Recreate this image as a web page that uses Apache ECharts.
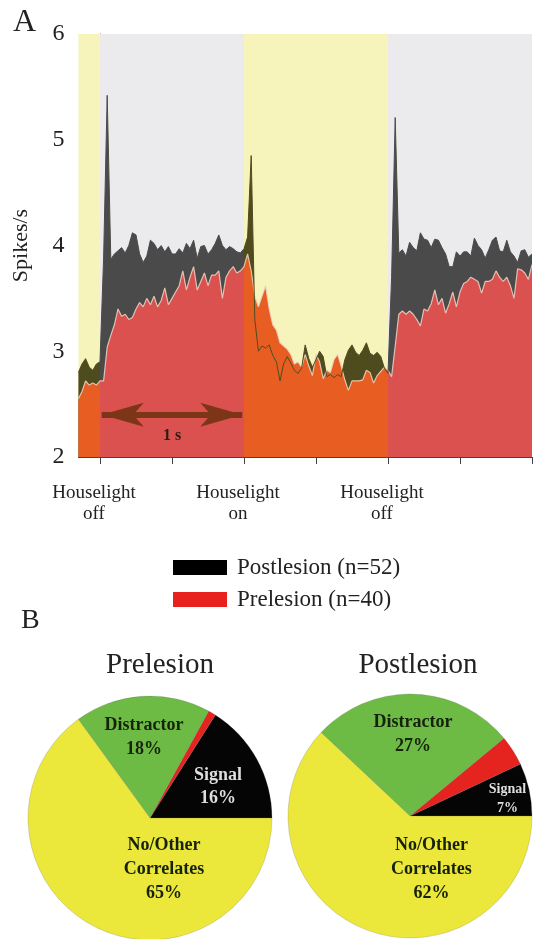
<!DOCTYPE html>
<html><head><meta charset="utf-8">
<script src="https://cdn.jsdelivr.net/npm/echarts@6/dist/echarts.min.js"></script>
<style>html,body{margin:0;padding:0;background:#fff}#c{width:536px;height:939px}</style>
</head><body><div id="c"></div>
<script>
// ---- data ----
const tStart = -0.15, tStep = 0.025; // 25 ms bins
const postlesion = [2.80,2.88,2.93,2.85,2.82,2.88,2.90,3.88,5.42,3.87,3.92,3.95,3.98,3.93,4.00,4.12,4.10,3.92,3.84,3.90,
4.05,4.02,3.96,4.00,3.94,3.99,3.92,3.92,3.97,3.93,4.02,3.97,4.05,3.88,3.99,4.00,3.92,3.96,4.02,4.10,
4.00,3.96,3.99,3.97,3.94,3.93,3.97,4.08,4.85,3.30,3.00,3.05,3.03,3.06,2.96,2.90,2.72,2.88,2.95,2.89,
2.82,2.79,2.84,3.06,2.93,2.85,2.92,3.00,2.95,2.76,2.78,2.75,2.78,2.76,2.92,3.01,3.06,2.99,2.96,3.01,
3.08,2.98,2.96,2.99,2.95,2.84,2.79,3.70,5.21,3.93,3.96,3.90,4.03,3.98,3.95,4.12,4.06,4.05,3.98,4.06,
4.05,3.98,3.92,3.80,3.80,3.94,3.90,3.94,3.94,3.90,4.07,4.00,3.96,3.88,3.96,4.05,4.08,3.95,3.94,4.05,
3.94,3.90,3.84,3.95,3.96,3.89,3.92];
const prelesion = [2.55,2.62,2.72,2.68,2.70,2.68,2.72,2.72,3.04,3.15,3.25,3.40,3.33,3.35,3.30,3.32,3.40,3.46,3.42,3.50,
3.44,3.52,3.42,3.48,3.60,3.44,3.50,3.56,3.62,3.76,3.58,3.70,3.80,3.58,3.66,3.74,3.62,3.72,3.72,3.76,
3.50,3.70,3.76,3.80,3.74,3.76,3.80,3.92,3.76,3.52,3.42,3.52,3.62,3.40,3.25,3.20,3.08,3.05,3.02,2.97,
2.88,2.90,2.85,2.97,2.86,2.77,2.97,2.90,2.74,2.82,2.80,2.92,2.97,2.86,2.73,2.63,2.72,2.72,2.72,2.73,
2.82,2.80,2.70,2.77,2.81,2.85,2.82,2.76,3.05,3.35,3.38,3.35,3.38,3.35,3.30,3.24,3.40,3.38,3.45,3.58,
3.44,3.50,3.36,3.45,3.56,3.42,3.56,3.64,3.66,3.70,3.68,3.66,3.55,3.66,3.66,3.68,3.76,3.70,3.66,3.70,
3.62,3.50,3.78,3.77,3.74,3.68,3.82];
const times = postlesion.map((_, i) => +(tStart + i * tStep).toFixed(3));
const houselightEvents = [0, 1, 2];
const eventLabels = ['Houselight\noff', 'Houselight\non', 'Houselight\noff'];
const xTicks = [0, 0.5, 1, 1.5, 2, 2.5, 3];
const seriesNames = ['Postlesion (n=52)', 'Prelesion (n=40)'];
const pieCategories = ['Signal', 'Other', 'Distractor', 'No/Other\nCorrelates'];
const prePie = [16, 1, 18, 65];
const postPie = [7, 4, 27, 62];

// ---- styling ----
const SERIF = '"Liberation Serif","Times New Roman",serif';
const C = {
  bgOn: '#f6f3bb', bgOff: '#ebebed',
  postOff: '#4a4a4a', postOn: '#4e4c1f',
  preOff: '#da5150', preOn: '#e85d22',
  arrow: '#7c3617'
};
const pieColors = ['#050505', '#e6241f', '#6dbb45', '#ebe73b'];

const postData = times.map((t, i) => [t, postlesion[i]]);
const preData = times.map((t, i) => [t, prelesion[i]]);

// light phases from events: before first event light is on
const bounds = [times[0]].concat(houselightEvents, [3.0]);
const phases = [];
for (let k = 0; k < bounds.length - 1; k++) phases.push({ from: bounds[k], to: bounds[k + 1], on: k % 2 === 0 });

function pieces(onColor, offColor) {
  return phases.map((p, k) => {
    const pc = { color: p.on ? onColor : offColor };
    if (k > 0) pc.gte = p.from;
    if (k < phases.length - 1) pc.lt = p.to;
    return pc;
  });
}

const pieLabelOffsets = {
  pre: [[12, 0], [0, 0], [-2, -17], [43, -6]],
  post: [[35, -3], [0, 0], [1, -18], [45, -6]]
};

function pieSeries(values, center, offs, signalFont) {
  return {
    type: 'pie', silent: true, center: center, radius: 122,
    startAngle: 0, clockwise: false, avoidLabelOverlap: false,
    itemStyle: { borderColor: 'rgba(90,90,90,0.35)', borderWidth: 0.6 },
    label: { show: true, position: 'inside', formatter: '{b}\n{c}%', fontFamily: SERIF, fontWeight: 'bold',
      fontSize: 18, lineHeight: 24, color: '#17220d' },
    labelLine: { show: false },
    labelLayout: p => ({ dx: offs[p.dataIndex][0], dy: offs[p.dataIndex][1] }),
    data: values.map((v, i) => {
      const d = { name: pieCategories[i], value: v, itemStyle: { color: pieColors[i] } };
      if (i === 1) d.label = { show: false };
      if (i === 0) d.label = { color: '#dedede', fontSize: signalFont, lineHeight: signalFont + 5 };
      return d;
    })
  };
}

const chart = echarts.init(document.getElementById('c'), null, { renderer: 'canvas' });
chart.setOption({
  animation: false,
  backgroundColor: '#fff',
  title: [
    { text: 'A', left: 8, top: 2, textStyle: { fontFamily: SERIF, fontSize: 32, fontWeight: 'normal', color: '#222' } },
    { text: 'B', left: 16, top: 602, textStyle: { fontFamily: SERIF, fontSize: 28, fontWeight: 'normal', color: '#222' } },
    { text: 'Prelesion', left: 155, textAlign: 'center', top: 646, textStyle: { fontFamily: SERIF, fontSize: 29, fontWeight: 'normal', color: '#222' } },
    { text: 'Postlesion', left: 413, textAlign: 'center', top: 646, textStyle: { fontFamily: SERIF, fontSize: 29, fontWeight: 'normal', color: '#222' } }
  ],
  legend: {
    orient: 'vertical', left: 168, top: 551, itemWidth: 54, itemHeight: 15, itemGap: 9,
    icon: 'rect', selectedMode: false,
    textStyle: { fontFamily: SERIF, fontSize: 23, lineHeight: 23, color: '#222', padding: [0, 0, 0, 5] },
    data: [
      { name: seriesNames[0], itemStyle: { color: '#000', borderWidth: 0 } },
      { name: seriesNames[1], itemStyle: { color: '#e8201e', borderWidth: 0 } }
    ]
  },
  grid: { left: 78.4, right: 4, top: 34, bottom: 482, containLabel: false },
  xAxis: {
    type: 'value', min: times[0], max: 3.0,
    axisLine: { show: true, lineStyle: { color: '#444', width: 1 } },
    axisTick: { show: true, customValues: xTicks, length: 7, lineStyle: { color: '#444' } },
    axisLabel: { show: true, customValues: houselightEvents, margin: 26, fontFamily: SERIF, fontSize: 19, lineHeight: 21,
      color: '#222', padding: [0, 12, 0, 0],
      formatter: v => eventLabels[houselightEvents.indexOf(v)] || '' },
    splitLine: { show: false }
  },
  yAxis: {
    type: 'value', min: 2, max: 6, interval: 1,
    name: 'Spikes/s', nameLocation: 'middle', nameGap: 46,
    nameTextStyle: { fontFamily: SERIF, fontSize: 22, color: '#222' },
    axisLine: { show: true, lineStyle: { color: '#444', width: 1.2 } },
    axisTick: { show: true, length: 9, lineStyle: { color: '#444' } },
    axisLabel: { fontFamily: SERIF, fontSize: 24, color: '#222', margin: 14 },
    splitLine: { show: false }
  },
  visualMap: [
    { show: false, type: 'piecewise', dimension: 0, seriesIndex: [0, 2], pieces: pieces(C.postOn, C.postOff) },
    { show: false, type: 'piecewise', dimension: 0, seriesIndex: 1, pieces: pieces(C.preOn, C.preOff) }
  ],
  series: [
    {
      name: seriesNames[0], type: 'line', data: postData, showSymbol: false, silent: true,
      lineStyle: { width: 0 }, areaStyle: { opacity: 1 },
      markArea: {
        silent: true,
        data: phases.map(p => [{ xAxis: p.from, itemStyle: { color: p.on ? C.bgOn : C.bgOff } }, { xAxis: p.to }])
      }
    },
    {
      name: seriesNames[1], type: 'line', data: preData, showSymbol: false, silent: true,
      lineStyle: { width: 1.2, color: 'rgba(236,214,196,0.85)' }, areaStyle: { opacity: 1 }
    },
    {
      name: 'post-outline', type: 'line', data: postData, showSymbol: false, silent: true,
      lineStyle: { width: 1 }
    },
    {
      name: 'scale', type: 'line', data: [], silent: true,
      markLine: {
        silent: true, symbol: ['arrow', 'arrow'], symbolSize: [18, 42],
        lineStyle: { color: C.arrow, width: 6, type: 'solid' },
        label: { show: true, position: 'insideMiddleBottom', distance: 13, formatter: '1 s',
          fontFamily: SERIF, fontWeight: 'bold', fontSize: 16, color: '#2e1c12' },
        data: [[{ coord: [houselightEvents[0] + 0.012, 2.4] }, { coord: [houselightEvents[1] - 0.012, 2.4] }]]
      }
    },
    pieSeries(prePie, [150, 818], pieLabelOffsets.pre, 18),
    pieSeries(postPie, [410, 816], pieLabelOffsets.post, 14)
  ]
});
</script>
</body></html>
